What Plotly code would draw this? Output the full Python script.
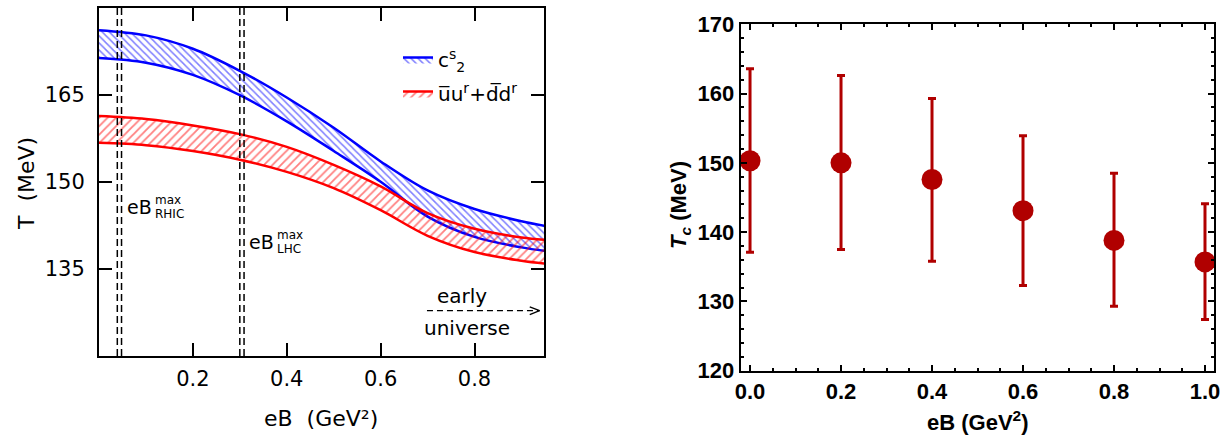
import plotly.graph_objects as go

# ---------------- Left panel data (bands) ----------------
eB_band = [0.0, 0.1, 0.2, 0.3, 0.4, 0.5, 0.6, 0.7, 0.8, 0.9, 0.95]
c2s_upper = [176.1, 175.2, 172.9, 169.1, 164.5, 159.3, 153.5, 148.5, 145.3, 143.2, 142.4]
c2s_lower = [171.3, 170.5, 168.4, 164.9, 160.4, 155.3, 150.0, 144.0, 140.5, 138.7, 138.1]
uu_upper = [161.3, 160.8, 159.7, 158.2, 156.0, 152.9, 149.2, 144.6, 141.9, 140.4, 140.0]
uu_lower = [156.7, 156.3, 155.3, 153.8, 151.7, 148.9, 145.1, 140.7, 137.9, 136.4, 135.9]

rhic_eB = [0.039, 0.048]
lhc_eB = [0.300, 0.309]

left_xticks = [0.2, 0.4, 0.6, 0.8]
left_yticks = [135, 150, 165]

# ---------------- Right panel data (points) ----------------
eB_pts = [0.0, 0.2, 0.4, 0.6, 0.8, 1.0]
Tc = [150.3, 150.0, 147.6, 143.1, 138.8, 135.7]
Tc_hi = [163.6, 162.6, 159.3, 153.9, 148.5, 144.1]
Tc_lo = [137.1, 137.5, 135.8, 132.3, 129.3, 127.4]
err_plus = [h - v for h, v in zip(Tc_hi, Tc)]
err_minus = [v - l for v, l in zip(Tc, Tc_lo)]

W, H = 1228, 435
LFONT = "DejaVu Sans"
RFONT = "Liberation Sans"
BLUE = "#0000ff"
RED = "#ff0000"
DARKRED = "#b00000"


def PX(p):
    return p / W


def PY(p):
    return min(1.0, max(0.0, 1 - p / H))


fig = go.Figure()


def band(x, lo, hi, color, shape, size, name, group):
    fig.add_trace(go.Scatter(x=x, y=lo, mode="lines", line=dict(color=color, width=2.5, shape="spline"),
                             showlegend=False, hoverinfo="skip", legendgroup=group, xaxis="x", yaxis="y"))
    fig.add_trace(go.Scatter(x=x, y=hi, mode="lines", line=dict(color=color, width=2.5, shape="spline"),
                             fill="tonexty", fillcolor="rgba(0,0,0,0)",
                             fillpattern=dict(shape=shape, fgcolor=color, bgcolor="rgba(0,0,0,0)",
                                              size=size, solidity=0.3),
                             name=name, showlegend=True, legendgroup=group, xaxis="x", yaxis="y"))


band(eB_band, c2s_lower, c2s_upper, BLUE, "\\", 5, "c<sup>s</sup><sub>2</sub>", "a")
band(eB_band, uu_lower, uu_upper, RED, "/", 6, "u\u0305u<sup>r</sup>+d\u0305d<sup>r</sup>", "b")

fig.add_trace(go.Scatter(
    x=eB_pts, y=Tc, mode="markers",
    marker=dict(color=DARKRED, size=21),
    error_y=dict(type="data", array=err_plus, arrayminus=err_minus, color=DARKRED, thickness=3, width=4),
    showlegend=False, xaxis="x2", yaxis="y2"))

shapes = []
for xv in rhic_eB + lhc_eB:
    shapes.append(dict(type="line", xref="x", yref="y domain", x0=xv, x1=xv, y0=0, y1=1,
                       line=dict(color="black", width=1.5, dash="7px,4px")))
# dashed arrow "early universe"
shapes.append(dict(type="line", xref="x domain", yref="y domain", x0=0.737, x1=0.99, y0=0.130, y1=0.130,
                   line=dict(color="black", width=1.3, dash="6px,4px")))
shapes.append(dict(type="line", xref="x domain", yref="y domain", x0=0.968, x1=0.99, y0=0.141, y1=0.130,
                   line=dict(color="black", width=1.3)))
shapes.append(dict(type="line", xref="x domain", yref="y domain", x0=0.968, x1=0.99, y0=0.119, y1=0.130,
                   line=dict(color="black", width=1.3)))


def px2dom_x(px):
    return (px - 99) / 445.0


def px2dom_y(py):
    return (356 - py) / 348.0


ann = []


def tx(text, px, py, size, xanchor="left", font=LFONT, color="black"):
    ann.append(dict(text=text, xref="x domain", yref="y domain", x=px2dom_x(px), y=px2dom_y(py),
                    xanchor=xanchor, yanchor="middle", showarrow=False,
                    font=dict(family=font, size=size, color=color)))


tx("eB", 125, 207, 19)
tx("max", 153, 200, 12)
tx("RHIC", 153, 214, 12)
tx("eB", 247, 242, 19)
tx("max", 275, 235, 12)
tx("LHC", 275, 249, 12)
tx("early", 462, 296, 20, xanchor="center")
tx("universe", 467, 328, 20, xanchor="center")

# axis titles
ann.append(dict(text="T\u00a0\u00a0(MeV)", xref="paper", yref="paper", x=PX(26), y=PY(184),
                xanchor="center", yanchor="middle", textangle=-90, showarrow=False,
                font=dict(family=LFONT, size=22, color="black")))
ann.append(dict(text="eB\u00a0\u00a0(GeV\u00b2)", xref="paper", yref="paper", x=PX(321), y=PY(418),
                xanchor="center", yanchor="middle", showarrow=False,
                font=dict(family=LFONT, size=22, color="black")))
ann.append(dict(text="<b><i>T</i><sub><i>c</i></sub> (MeV)</b>", xref="paper", yref="paper", x=PX(680), y=PY(205),
                xanchor="center", yanchor="middle", textangle=-90, showarrow=False,
                font=dict(family=RFONT, size=22, color="black")))
ann.append(dict(text="<b>eB (GeV<sup>2</sup>)</b>", xref="paper", yref="paper", x=PX(977), y=PY(421),
                xanchor="center", yanchor="middle", showarrow=False,
                font=dict(family=RFONT, size=22, color="black")))

common = dict(showline=True, linecolor="black", linewidth=2, mirror="ticks", showgrid=False,
              zeroline=False, automargin=False, tickcolor="black")

fig.update_layout(
    width=W, height=H,
    margin=dict(l=0, r=0, t=0, b=0, pad=0, autoexpand=False),
    paper_bgcolor="white", plot_bgcolor="white",
    shapes=shapes, annotations=ann,
    legend=dict(x=PX(398), y=PY(40), xanchor="left", yanchor="top", traceorder="grouped",
                bgcolor="rgba(0,0,0,0)", font=dict(family=LFONT, size=20, color="black"),
                itemwidth=30, tracegroupgap=5),
    xaxis=dict(domain=[PX(99), PX(544)], range=[0, 0.948], tickvals=left_xticks,
               ticktext=[f"{v:.1f}" for v in left_xticks],
               ticks="inside", ticklen=13, tickwidth=1.5,
               tickfont=dict(family=LFONT, size=21, color="black"), ticklabelstandoff=3, **common),
    yaxis=dict(domain=[PY(356), PY(7.5)], range=[120, 180], tickvals=left_yticks,
               ticks="inside", ticklen=13, tickwidth=1.5,
               tickfont=dict(family=LFONT, size=21, color="black"), ticklabelstandoff=8, **common),
    xaxis2=dict(domain=[PX(740.7), PX(1214)], range=[-0.0205, 1.0198], anchor="y2",
                tickvals=[0.0, 0.2, 0.4, 0.6, 0.8, 1.0], ticktext=["0.0", "0.2", "0.4", "0.6", "0.8", "1.0"],
                ticks="inside", ticklen=6, tickwidth=2,
                minor=dict(dtick=0.05, tick0=0, ticks="inside", ticklen=3, tickwidth=1.5, tickcolor="black"),
                tickfont=dict(family=RFONT, size=22, color="black", weight="bold"), **common),
    yaxis2=dict(domain=[PY(370.7), PY(24.3)], range=[120, 170], anchor="x2",
                tickvals=[120, 130, 140, 150, 160, 170],
                ticks="inside", ticklen=6, tickwidth=2,
                minor=dict(dtick=2, tick0=120, ticks="inside", ticklen=3, tickwidth=1.5, tickcolor="black"),
                tickfont=dict(family=RFONT, size=22, color="black", weight="bold"), **common),
)

fig.write_html("out.html", config={"displayModeBar": False},
               post_script="document.body.style.margin='0';document.body.style.padding='0';")
